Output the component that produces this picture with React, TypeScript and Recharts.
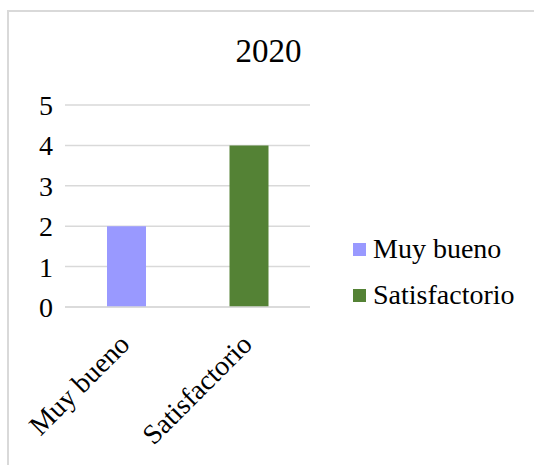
import { Bar, BarChart, CartesianGrid, Cell, XAxis, YAxis } from "recharts";

const CATEGORIAS = ["Muy bueno", "Satisfactorio"];
const VALORES = [2, 4];
const COLORES = ["#9999FF", "#548235"];
const TICKS_Y = [0, 1, 2, 3, 4, 5];

const FUENTE = "'Liberation Serif', 'Times New Roman', serif";

const data = CATEGORIAS.map((c, i) => ({ nombre: c, valor: VALORES[i] }));

function TickX(props: any) {
  const { x, y, payload } = props;
  return (
    <g transform={`translate(${x + 5},${y + 31})`}>
      <text
        textAnchor="end"
        transform="rotate(-45)"
        fontSize={28}
        fontFamily={FUENTE}
        fill="#000"
      >
        {payload.value}
      </text>
    </g>
  );
}

function Leyenda() {
  return (
    <div style={{ fontFamily: FUENTE, fontSize: 28, color: "#000" }}>
      {CATEGORIAS.map((c, i) => (
        <div key={c} style={{ display: "flex", alignItems: "center", height: 46 }}>
          <span
            style={{
              display: "inline-block",
              width: 13,
              height: 13,
              background: COLORES[i],
              marginRight: 7,
            }}
          />
          <span>{c}</span>
        </div>
      ))}
    </div>
  );
}

export default function App() {
  return (
    <div style={{ position: "absolute", left: 0, top: 0, width: 534, height: 465 }}>
      <div
        style={{
          position: "absolute",
          left: 7,
          top: 10,
          width: 527,
          height: 455,
          boxSizing: "border-box",
          borderTop: "2px solid #d9d9d9",
          borderLeft: "2px solid #d9d9d9",
        }}
      />
      <div
        style={{
          position: "absolute",
          left: 0,
          top: 33,
          width: 537,
          textAlign: "center",
          fontFamily: FUENTE,
          fontSize: 33,
          color: "#000",
        }}
      >
        2020
      </div>
      <div style={{ position: "absolute", left: 353, top: 226 }}>
        <Leyenda />
      </div>
      <div style={{ position: "absolute", left: 0, top: 0 }}>
        <BarChart
          width={534}
          height={465}
          data={data}
          margin={{ top: 105, right: 224, bottom: 0, left: 0 }}
        >
          <CartesianGrid vertical={false} stroke="#d9d9d9" strokeWidth={1.5} />
          <XAxis
            dataKey="nombre"
            height={158}
            axisLine={{ stroke: "#d9d9d9", strokeWidth: 1.5 }}
            tickLine={false}
            tick={<TickX />}
            interval={0}
          />
          <YAxis
            width={65}
            domain={[0, 5]}
            ticks={TICKS_Y}
            interval={0}
            axisLine={false}
            tickLine={false}
            tickMargin={6}
            tick={{ fontSize: 28, fontFamily: FUENTE, fill: "#000" }}
          />
          <Bar dataKey="valor" barSize={39} isAnimationActive={false}>
            {data.map((d, i) => (
              <Cell key={d.nombre} fill={COLORES[i]} />
            ))}
          </Bar>
        </BarChart>
      </div>
    </div>
  );
}
